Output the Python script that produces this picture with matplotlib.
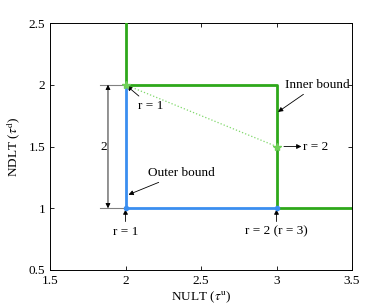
import matplotlib
matplotlib.use("Agg")
import matplotlib.pyplot as plt

plt.rcParams["font.family"] = ["Liberation Serif", "DejaVu Serif"]
plt.rcParams["mathtext.fontset"] = "stix"

# inner bound (green) and outer bound (blue) corner points
inner_x = [2, 2, 3, 3, 3.5]
inner_y = [2.5, 2, 2, 1, 1]
outer_x = [2, 2, 3]
outer_y = [2, 1, 1]
achieve_x = [2, 3]
achieve_y = [2, 1.5]
corner_x = [2, 3]
corner_y = [1, 1]

green = "#2ea81a"
blue = "#3a8ef0"

fig = plt.figure(figsize=(3.88, 3.05), dpi=100)
ax = fig.add_axes([50 / 388, 1 - 270 / 305, 302 / 388, 247 / 305])

ax.plot(outer_x, outer_y, color=blue, lw=2, zorder=3)
ax.plot(inner_x, inner_y, color=green, lw=2, zorder=3)
ax.plot(achieve_x, achieve_y, color="#7fd86a", lw=0.9, ls=":", zorder=2)
ax.plot(achieve_x, achieve_y, ls="none", marker="*", color="#6fd058", ms=6, zorder=4)
ax.plot(corner_x, corner_y, ls="none", marker="o", color=blue, ms=3, zorder=4)

# distance bracket
ax.plot([1.83, 2], [2, 2], color="gray", lw=0.8)
ax.plot([1.83, 2], [1, 1], color="gray", lw=0.8)
ax.annotate("", xy=(1.884, 2), xytext=(1.884, 1),
            arrowprops=dict(arrowstyle="<|-|>", color="black", lw=0.6,
                            mutation_scale=7, shrinkA=0, shrinkB=0))
ax.text(1.855, 1.5, "2", ha="center", va="center", fontsize=9.5)

arrow = dict(arrowstyle="-|>", color="black", lw=0.6, mutation_scale=7, shrinkA=1, shrinkB=0)
ax.annotate("r = 1", xy=(2.01, 1.99), xytext=(2.08, 1.83), fontsize=9.5,
            ha="left", va="center", arrowprops=arrow)
ax.annotate("Inner bound", xy=(3.01, 1.78), xytext=(3.27, 2.0), fontsize=9.5,
            ha="center", va="center", arrowprops=arrow)
ax.annotate("", xy=(3.165, 1.5), xytext=(3.04, 1.5), arrowprops=arrow)
ax.text(3.175, 1.5, "r = 2", fontsize=9.5, ha="left", va="center")
ax.annotate("Outer bound", xy=(2.02, 1.11), xytext=(2.15, 1.285), fontsize=9.5,
            ha="left", va="center", arrowprops=arrow)
ax.annotate("r = 1", xy=(2, 0.99), xytext=(2, 0.81), fontsize=9.5,
            ha="center", va="center", arrowprops=arrow)
ax.annotate("r = 2 (r = 3)", xy=(3, 0.99), xytext=(3, 0.81), fontsize=9.5,
            ha="center", va="center", arrowprops=arrow)

ax.set_xlim(1.5, 3.5)
ax.set_ylim(0.5, 2.5)
ax.set_xticks([1.5, 2, 2.5, 3, 3.5])
ax.set_yticks([0.5, 1, 1.5, 2, 2.5])
ax.set_xticklabels(["1.5", "2", "2.5", "3", "3.5"])
ax.set_yticklabels(["0.5", "1", "1.5", "2", "2.5"])
ax.tick_params(direction="in", top=True, right=True, labelsize=9.5, length=3, width=0.6)
for s in ax.spines.values():
    s.set_linewidth(0.7)
ax.set_xlabel(r"NULT ($\tau^{\rm u}$)", fontsize=9.5, labelpad=2)
ax.set_ylabel(r"NDLT ($\tau^{\rm d}$)", fontsize=9.5, labelpad=4)

fig.savefig("out.png", dpi=100)
